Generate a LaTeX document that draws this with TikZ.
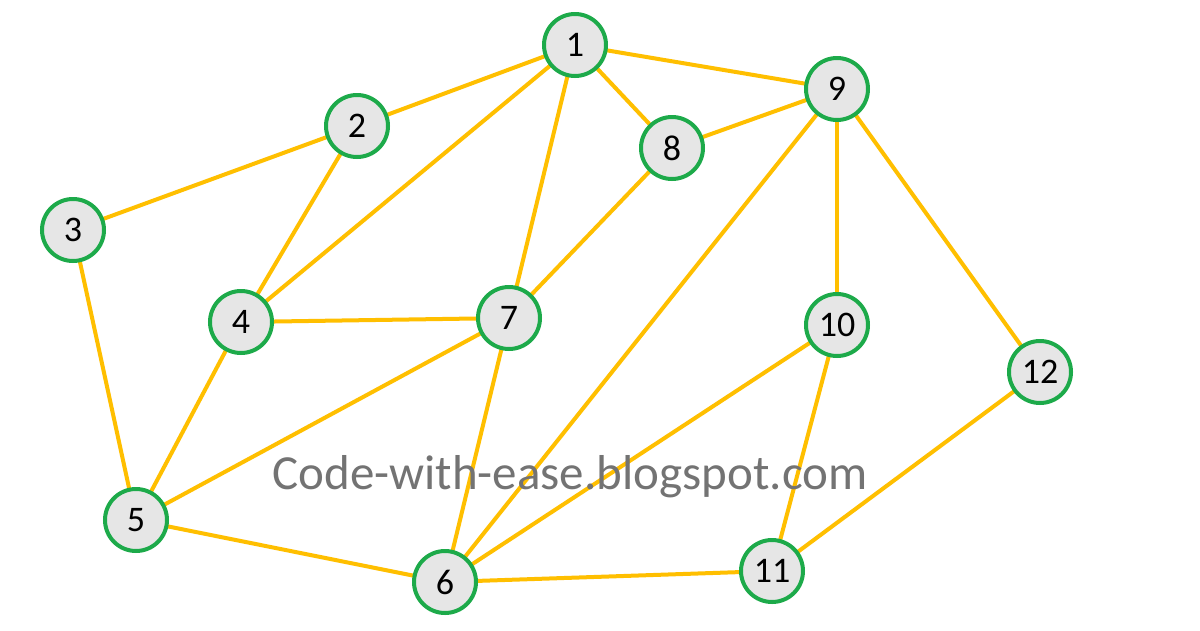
\documentclass[tikz,border=0pt]{standalone}
\usepackage{fontspec}
\setmainfont{Carlito}
\definecolor{ring}{HTML}{1DAA4A}
\definecolor{edgec}{HTML}{FFBF00}
\definecolor{fillc}{HTML}{E6E6E6}
\tikzset{vert/.style={circle,draw=ring,line width=4pt,fill=fillc,minimum size=62pt,inner sep=0pt,font=\fontsize{36}{38}\selectfont},
ed/.style={edgec,line width=4pt}}
\begin{document}
\begin{tikzpicture}[x=1pt,y=-1pt]
\fill[white] (0,0) rectangle (1200,630);
\useasboundingbox (0,0) rectangle (1200,630);
\coordinate (c1) at (575,45);
\coordinate (c2) at (357,126);
\coordinate (c3) at (73,230);
\coordinate (c4) at (241,322);
\coordinate (c5) at (136,520);
\coordinate (c6) at (445,582);
\coordinate (c7) at (509,318);
\coordinate (c8) at (672,148);
\coordinate (c9) at (837,89);
\coordinate (c10) at (837,325);
\coordinate (c11) at (772,571);
\coordinate (c12) at (1040,372);
\foreach \a/\b in {1/2,1/9,1/8,1/4,1/7,2/3,2/4,3/5,4/7,4/5,5/7,5/6,6/7,6/9,6/10,6/11,7/8,8/9,9/10,9/12,10/11,11/12}
  \draw[ed] (c\a) -- (c\b);
\foreach \i in {1,...,12}
  \node[vert] (n\i) at (c\i) {\i};
\node[text=black!55,font=\fontsize{49}{50}\selectfont] (wm) at (570,477) {Code-with-ease.blogspot.com};
\end{tikzpicture}
\end{document}
